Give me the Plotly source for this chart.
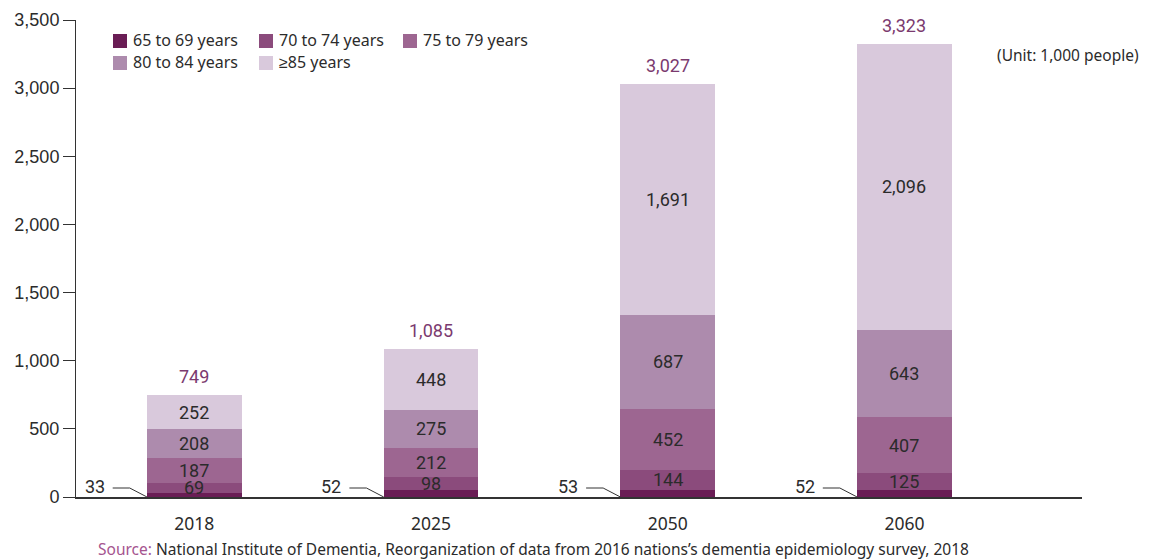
import plotly.graph_objects as go

years = ["2018", "2025", "2050", "2060"]
series_names = ["65 to 69 years", "70 to 74 years", "75 to 79 years", "80 to 84 years", "≥85 years"]
v_65_69 = [33, 52, 53, 52]
v_70_74 = [69, 98, 144, 125]
v_75_79 = [187, 212, 452, 407]
v_80_84 = [208, 275, 687, 643]
v_85_up = [252, 448, 1691, 2096]
totals = [749, 1085, 3027, 3323]
y_ticks = [0, 500, 1000, 1500, 2000, 2500, 3000, 3500]

colors = ["#6a1d55", "#8b4b7c", "#9d6691", "#ad8bad", "#d9c9dc"]
series = [v_65_69, v_70_74, v_75_79, v_80_84, v_85_up]
xpos = list(range(len(years)))
BW = 0.4

W, H = 1149, 560
ML, MR, MT, MB = 76, 67, 20, 63
PW, PH = W - ML - MR, H - MT - MB


def px_x(p):
    return (p - ML) / PW


def px_y(p):
    return (H - MB - p) / PH


fig = go.Figure()
for k, (name, vals, col) in enumerate(zip(series_names, series, colors)):
    fig.add_trace(go.Bar(
        x=xpos, y=vals, name=name, width=BW,
        marker=dict(color=col, line=dict(width=0)),
        showlegend=False, hoverinfo="y+name",
    ))

ann = []
shapes = []
lab_font = dict(family="Roboto, Noto Sans, sans-serif", size=18, color="#2b2b2b")
for i in xpos:
    base = 0
    for k, vals in enumerate(series):
        v = vals[i]
        if k > 0:
            ann.append(dict(x=i, y=base + v / 2, xref="x", yref="y", text=f"{v:,}",
                            showarrow=False, font=lab_font, yanchor="middle"))
        base += v
    ann.append(dict(x=i, y=totals[i], xref="x", yref="y", text=f"{totals[i]:,}",
                    showarrow=False, yanchor="bottom", yshift=6,
                    font=dict(family="Roboto, Noto Sans, sans-serif", size=18, color="#7b3a6f")))
    ann.append(dict(x=i - 0.37, y=80, xref="x", yref="y", text=f"{v_65_69[i]:,}",
                    showarrow=False, xanchor="right", yanchor="middle", font=lab_font))
    shapes.append(dict(type="path", xref="x", yref="y",
                       path=f"M {i-0.345} 66 L {i-0.273} 66 L {i-BW/2} 0",
                       line=dict(color="#333333", width=1)))

# manual legend (two rows like the reference)
leg_font = dict(family="Noto Sans, sans-serif", size=16, color="#2b2b2b")
leg_cols_px = [113, 259, 403]
leg_rows_px = [41, 63]
for k, (name, col) in enumerate(zip(series_names, colors)):
    r, c = divmod(k, 3)
    x0 = leg_cols_px[c]
    yc = leg_rows_px[r]
    shapes.append(dict(type="rect", xref="paper", yref="paper",
                       x0=px_x(x0), x1=px_x(x0 + 14), y0=px_y(yc + 7), y1=px_y(yc - 7),
                       fillcolor=col, line=dict(width=0)))
    ann.append(dict(xref="paper", yref="paper", x=px_x(x0 + 18), y=px_y(yc - 1),
                    xanchor="left", yanchor="middle", text=name, showarrow=False, font=leg_font))

ann.append(dict(xref="paper", yref="paper", x=px_x(1141), y=px_y(55), xanchor="right", yanchor="middle",
                text="(Unit: 1,000 people)", showarrow=False,
                font=dict(family="Noto Sans, sans-serif", size=15.5, color="#2b2b2b")))
ann.append(dict(xref="paper", yref="paper", x=px_x(96), y=px_y(549), xanchor="left", yanchor="middle",
                text="<span style='color:#a5548f'>Source:</span> National Institute of Dementia, Reorganization of data from 2016 nations’s dementia epidemiology survey, 2018",
                showarrow=False,
                font=dict(family="Noto Sans, sans-serif", size=15.5, color="#2b2b2b")))

fig.update_layout(
    width=W, height=H,
    margin=dict(l=ML, r=MR, t=MT, b=MB),
    plot_bgcolor="white", paper_bgcolor="white",
    barmode="stack",
    showlegend=False,
    annotations=ann, shapes=shapes,
    xaxis=dict(range=[-0.5, 3.75], tickvals=xpos, ticktext=years, showgrid=False, zeroline=False,
               showline=True, linecolor="#333333", linewidth=1.5, ticks="", automargin=False,
               ticklabelstandoff=10,
               tickfont=dict(family="Noto Sans, sans-serif", size=17.5, color="#2b2b2b")),
    yaxis=dict(range=[0, 3500], tickvals=y_ticks, tickformat=",", showgrid=False, zeroline=False,
               showline=True, linecolor="#333333", linewidth=1, ticks="outside", ticklen=12,
               tickcolor="#333333", automargin=False,
               tickfont=dict(family="Liberation Sans, Arial, sans-serif", size=18, color="#2b2b2b")),
)

fig.write_html("out.html", config={"displayModeBar": False},
               post_script="document.body.style.margin='0';document.body.style.padding='0';")
